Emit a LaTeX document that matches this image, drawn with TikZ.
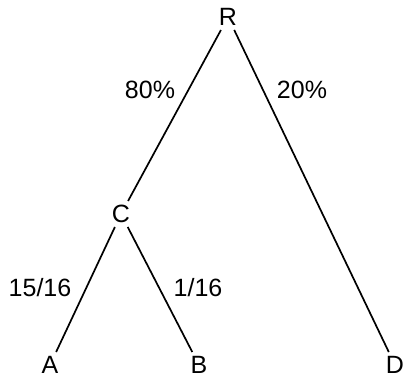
\documentclass[tikz,border=0pt]{standalone}
\usepackage{fontspec}
\setmainfont{Liberation Sans}
\begin{document}
\begin{tikzpicture}[x=1pt,y=-1pt,
  vert/.style={inner sep=0pt, outer sep=0pt, minimum height=26pt, minimum width=20pt, font=\fontsize{25}{29}\selectfont},
  lbl/.style={inner sep=0pt, font=\fontsize{25}{29}\selectfont},
  edge/.style={line width=1.7pt, black}]
\useasboundingbox (0,0) rectangle (404,379);
\node[vert] (R) at (228,17) {R};
\node[vert] (C) at (121,214) {C};
\node[vert] (A) at (50,365) {A};
\node[vert] (B) at (199,365) {B};
\node[vert] (D) at (395,365) {D};
\draw[edge] (R) -- (C);
\draw[edge] (R) -- (D);
\draw[edge] (C) -- (A);
\draw[edge] (C) -- (B);
\node[lbl] (l1) at (150,90) {80\%};
\node[lbl] (l2) at (302,90) {20\%};
\node[lbl] (l3) at (40,288) {15/16};
\node[lbl] (l4) at (198,288) {1/16};
\end{tikzpicture}
\end{document}
